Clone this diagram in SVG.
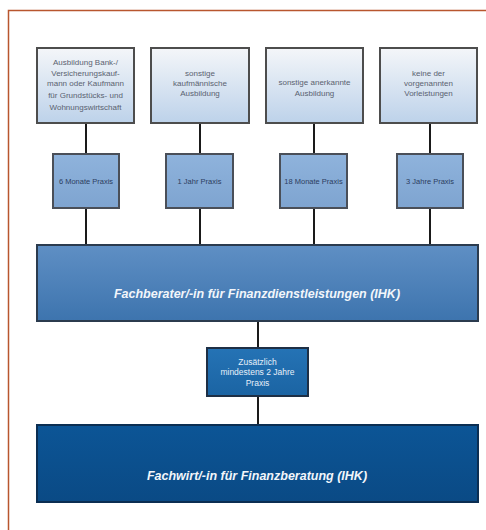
<svg xmlns="http://www.w3.org/2000/svg" width="486" height="530" viewBox="0 0 486 530">
<defs>
<linearGradient id="gTop" x1="0" y1="0" x2="0" y2="1"><stop offset="0" stop-color="#f4f6f9"/><stop offset="1" stop-color="#bdd2ea"/></linearGradient>
<linearGradient id="gSmall" x1="0" y1="0" x2="0" y2="1"><stop offset="0" stop-color="#8fb3dc"/><stop offset="1" stop-color="#7ea4d0"/></linearGradient>
<linearGradient id="gBar1" x1="0" y1="0" x2="0" y2="1"><stop offset="0" stop-color="#5f8fc4"/><stop offset="1" stop-color="#3d74ae"/></linearGradient>
<linearGradient id="gBar2" x1="0" y1="0" x2="0" y2="1"><stop offset="0" stop-color="#0c5596"/><stop offset="1" stop-color="#0a4a85"/></linearGradient>
<linearGradient id="gMid" x1="0" y1="0" x2="0" y2="1"><stop offset="0" stop-color="#2573b5"/><stop offset="1" stop-color="#1b64a3"/></linearGradient>
</defs>
<style>
.top{fill:url(#gTop);stroke:#4d4d4d;stroke-width:2}
.small{fill:url(#gSmall);stroke:#4a4f58;stroke-width:2}
.t{font-family:"Liberation Sans",Arial,sans-serif;font-size:8px;fill:#5a6270;text-anchor:middle}
.ts{font-family:"Liberation Sans",Arial,sans-serif;font-size:7.5px;fill:#2c3d5e;text-anchor:middle}
.tw{font-family:"Liberation Sans",Arial,sans-serif;font-size:8.5px;fill:#e8f0fa;text-anchor:middle}
.big{font-family:"Liberation Sans",Arial,sans-serif;font-size:12.5px;font-weight:bold;font-style:italic;fill:#f2f6fb;text-anchor:middle}
.c{stroke:#1a1a1a;stroke-width:2;fill:none}
</style>
<rect width="486" height="530" fill="#ffffff"/>
<path d="M8.5 540 V10.5 H500" fill="none" stroke="#b8562e" stroke-width="1.5"/>
<g id="connectors">
<line class="c" x1="86" y1="123" x2="86" y2="154"/>
<line class="c" x1="200" y1="123" x2="200" y2="154"/>
<line class="c" x1="314" y1="123" x2="314" y2="154"/>
<line class="c" x1="430" y1="123" x2="430" y2="154"/>
<line class="c" x1="86" y1="208" x2="86" y2="245"/>
<line class="c" x1="200" y1="208" x2="200" y2="245"/>
<line class="c" x1="314" y1="208" x2="314" y2="245"/>
<line class="c" x1="430" y1="208" x2="430" y2="245"/>
<line class="c" x1="258" y1="321" x2="258" y2="348"/>
<line class="c" x1="258" y1="396" x2="258" y2="425"/>
</g>
<g id="top1">
<rect class="top" x="37" y="48" width="97" height="75"/>
<text class="t" x="85.5" y="65">Ausbildung Bank-/</text>
<text class="t" x="85.5" y="75.5">Versicherungskauf-</text>
<text class="t" x="85.5" y="86">mann oder Kaufmann</text>
<text class="t" x="85.5" y="97.5">für Grundstücks- und</text>
<text class="t" x="85.5" y="110">Wohnungswirtschaft</text>
</g>
<g id="top2">
<rect class="top" x="151" y="48" width="98" height="75"/>
<text class="t" x="200" y="75.5">sonstige</text>
<text class="t" x="200" y="85.5">kaufmännische</text>
<text class="t" x="200" y="95.5">Ausbildung</text>
</g>
<g id="top3">
<rect class="top" x="266" y="48" width="97" height="75"/>
<text class="t" x="314.5" y="84.5">sonstige anerkannte</text>
<text class="t" x="314.5" y="95.5">Ausbildung</text>
</g>
<g id="top4">
<rect class="top" x="380" y="48" width="97" height="75"/>
<text class="t" x="428.5" y="75.5">keine der</text>
<text class="t" x="428.5" y="85.5">vorgenannten</text>
<text class="t" x="428.5" y="95.5">Vorleistungen</text>
</g>
<g id="small1">
<rect class="small" x="53" y="154" width="66" height="54"/>
<text class="ts" x="86" y="183.5">6 Monate Praxis</text>
</g>
<g id="small2">
<rect class="small" x="166" y="154" width="67" height="54"/>
<text class="ts" x="199.5" y="183.5">1 Jahr Praxis</text>
</g>
<g id="small3">
<rect class="small" x="280" y="154" width="67" height="54"/>
<text class="ts" x="313.5" y="183.5">18 Monate Praxis</text>
</g>
<g id="small4">
<rect class="small" x="397" y="154" width="66" height="54"/>
<text class="ts" x="430" y="183.5">3 Jahre Praxis</text>
</g>
<g id="bar1">
<rect x="37" y="245" width="441" height="76" fill="url(#gBar1)" stroke="#2b3b4e" stroke-width="2"/>
<text class="big" x="257" y="297.5">Fachberater/-in für Finanzdienstleistungen (IHK)</text>
</g>
<g id="mid">
<rect x="207" y="348" width="101" height="48" fill="url(#gMid)" stroke="#1e2f45" stroke-width="2"/>
<text class="tw" x="257.5" y="364.5">Zusätzlich</text>
<text class="tw" x="257.5" y="375">mindestens 2 Jahre</text>
<text class="tw" x="257.5" y="386">Praxis</text>
</g>
<g id="bar2">
<rect x="37" y="425" width="441" height="77" fill="url(#gBar2)" stroke="#0b2e52" stroke-width="2"/>
<text class="big" x="257" y="479.5">Fachwirt/-in für Finanzberatung (IHK)</text>
</g>
</svg>
